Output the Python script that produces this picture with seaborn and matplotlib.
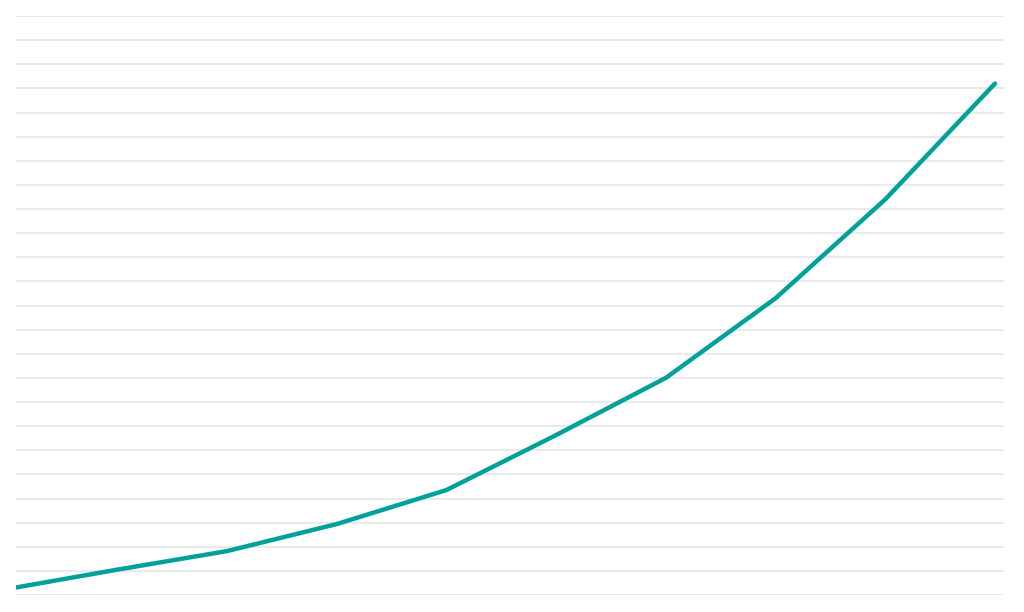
import numpy as np
import pandas as pd
import matplotlib
matplotlib.use("Agg")
import matplotlib.pyplot as plt
import seaborn as sns

# values (grid step = 10)
periods = [0, 1, 2, 3, 4, 5, 6, 7, 8, 9]
values = [2.5, 10.5, 18.2, 29.4, 43.5, 66.3, 90.0, 123.0, 164.0, 212.0]
grid_ticks = list(range(0, 250, 10))

sns.set_style("white")
df = pd.DataFrame({"period": periods, "value": values})

fig = plt.figure(figsize=(10.24, 6.12), dpi=100)
ax = fig.add_axes([16 / 1024, 17 / 612, 988 / 1024, 579 / 612])

sns.lineplot(data=df, x="period", y="value", ax=ax, color="#00a19a",
             linewidth=3.2, solid_capstyle="round", zorder=3)

# first point sits just left of the plot edge, so the line is cut there
ax.set_xlim(0.077, 9.082)
ax.set_ylim(0, 240)
ax.set_yticks(grid_ticks)
ax.yaxis.grid(True, color="#e6e6e6", linewidth=1.2)
ax.xaxis.grid(False)
ax.tick_params(left=False, bottom=False, labelleft=False, labelbottom=False)
ax.set_xlabel("")
ax.set_ylabel("")
for s in ax.spines.values():
    s.set_visible(False)

fig.savefig("out.png", dpi=100)
